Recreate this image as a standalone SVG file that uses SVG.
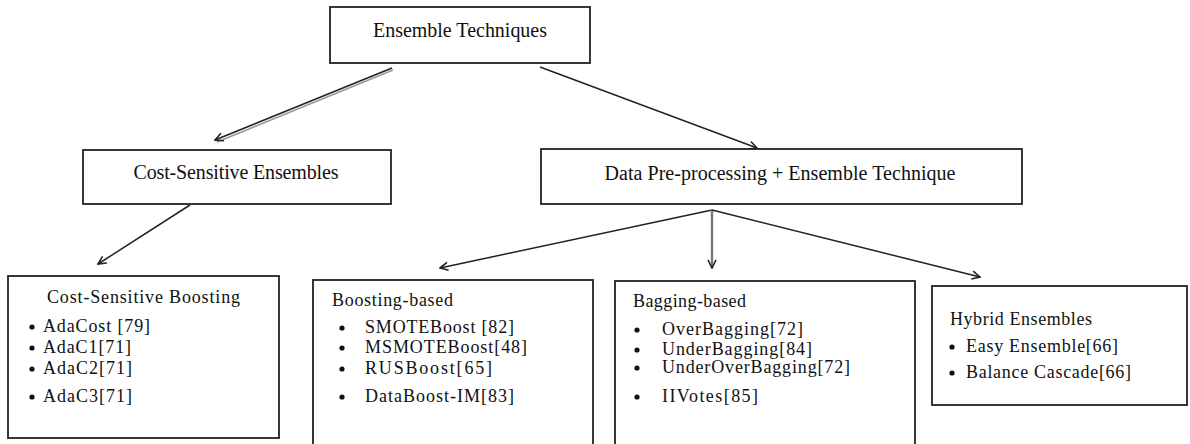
<svg xmlns="http://www.w3.org/2000/svg" width="1190" height="444" viewBox="0 0 1190 444">
  <defs>
    <marker id="arrow" viewBox="0 0 10 10" refX="9" refY="5" markerWidth="10" markerHeight="10" markerUnits="userSpaceOnUse" orient="auto">
      <path d="M1,1 L9,5 L1,9" fill="none" stroke="#222" stroke-width="1.6"/>
    </marker>
  </defs>
  <style>
    .box { fill: #fff; stroke: #222; stroke-width: 1.8; }
    .head { font-family: "Liberation Serif", "Times New Roman", serif; font-size: 20px; fill: #111; }
    .item { font-family: "Liberation Serif", "Times New Roman", serif; font-size: 18px; fill: #111; }
    .bul { fill: #111; }
    .link { fill: none; stroke: #222; stroke-width: 1.5; }
    .shadow { fill: none; stroke: #999; stroke-width: 1.6; }
  </style>
  <rect width="1190" height="444" fill="#fff"/>

  <!-- connectors -->
  <g id="connectors">
    <line class="shadow" x1="393" y1="70" x2="217" y2="142"/>
    <line class="link" x1="392" y1="68" x2="215" y2="140" marker-end="url(#arrow)"/>
    <line class="link" x1="540" y1="67" x2="757" y2="148" marker-end="url(#arrow)"/>
    <line class="link" x1="190" y1="205" x2="98" y2="264" marker-end="url(#arrow)"/>
    <line class="link" x1="712" y1="210" x2="440" y2="268" marker-end="url(#arrow)"/>
    <line x1="712" y1="210" x2="712" y2="268" stroke="#777" stroke-width="2.4" marker-end="url(#arrow)"/>
    <line class="link" x1="712" y1="210" x2="980" y2="277" marker-end="url(#arrow)"/>
  </g>

  <!-- root -->
  <g id="ensemble-techniques">
    <rect class="box" x="330" y="7" width="260" height="56"/>
    <text class="head" x="460" y="37" text-anchor="middle" textLength="174">Ensemble Techniques</text>
  </g>

  <g id="cost-sensitive-ensembles">
    <rect class="box" x="83" y="150" width="308" height="54"/>
    <text class="head" x="236" y="179" text-anchor="middle" textLength="205">Cost-Sensitive Ensembles</text>
  </g>

  <g id="data-preprocessing">
    <rect class="box" x="541" y="149" width="481" height="55"/>
    <text class="head" x="780" y="180" text-anchor="middle" textLength="351">Data Pre-processing + Ensemble Technique</text>
  </g>

  <g id="cost-sensitive-boosting">
    <rect class="box" x="8" y="276" width="271" height="162"/>
    <text class="item" x="47" y="303" textLength="193">Cost-Sensitive Boosting</text>
    <circle class="bul" cx="32" cy="327" r="2.6"/>
    <text class="item" x="43" y="332" textLength="107">AdaCost [79]</text>
    <circle class="bul" cx="32" cy="348" r="2.6"/>
    <text class="item" x="43" y="353" textLength="88">AdaC1[71]</text>
    <circle class="bul" cx="32" cy="369" r="2.6"/>
    <text class="item" x="43" y="374" textLength="89">AdaC2[71]</text>
    <circle class="bul" cx="32" cy="397" r="2.6"/>
    <text class="item" x="43" y="402" textLength="89">AdaC3[71]</text>
  </g>

  <g id="boosting-based">
    <rect class="box" x="313" y="280" width="280" height="168"/>
    <text class="item" x="332" y="306" textLength="121">Boosting-based</text>
    <circle class="bul" cx="342" cy="328" r="2.6"/>
    <text class="item" x="365" y="333" textLength="149">SMOTEBoost [82]</text>
    <circle class="bul" cx="342" cy="348" r="2.6"/>
    <text class="item" x="365" y="353" textLength="162">MSMOTEBoost[48]</text>
    <circle class="bul" cx="342" cy="369" r="2.6"/>
    <text class="item" x="365" y="374" textLength="127">RUSBoost[65]</text>
    <circle class="bul" cx="342" cy="397" r="2.6"/>
    <text class="item" x="365" y="402" textLength="149">DataBoost-IM[83]</text>
  </g>

  <g id="bagging-based">
    <rect class="box" x="615" y="281" width="300" height="167"/>
    <text class="item" x="633" y="307" textLength="113">Bagging-based</text>
    <circle class="bul" cx="637" cy="330" r="2.6"/>
    <text class="item" x="662" y="335" textLength="141">OverBagging[72]</text>
    <circle class="bul" cx="637" cy="350" r="2.6"/>
    <text class="item" x="662" y="355" textLength="150">UnderBagging[84]</text>
    <circle class="bul" cx="637" cy="368" r="2.6"/>
    <text class="item" x="662" y="373" textLength="188">UnderOverBagging[72]</text>
    <circle class="bul" cx="637" cy="397" r="2.6"/>
    <text class="item" x="662" y="402" textLength="96">IIVotes[85]</text>
  </g>

  <g id="hybrid-ensembles">
    <rect class="box" x="932" y="286" width="255" height="119"/>
    <text class="item" x="950" y="325" textLength="142">Hybrid Ensembles</text>
    <circle class="bul" cx="952" cy="347" r="2.6"/>
    <text class="item" x="966" y="352" textLength="152">Easy Ensemble[66]</text>
    <circle class="bul" cx="952" cy="373" r="2.6"/>
    <text class="item" x="966" y="378" textLength="165">Balance Cascade[66]</text>
  </g>
</svg>
